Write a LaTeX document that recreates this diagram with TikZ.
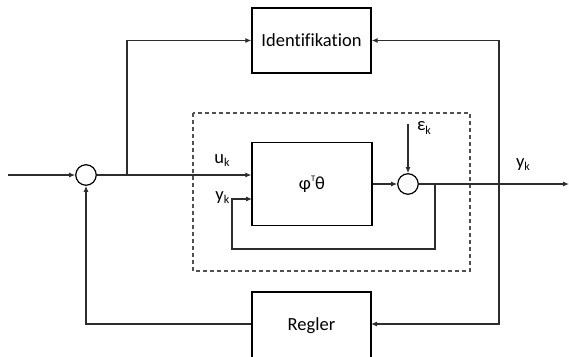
\documentclass[tikz,border=0pt]{standalone}
\usepackage{fontspec}
\setmainfont{Carlito}[Ligatures=NoCommon]
\usetikzlibrary{arrows.meta}
\definecolor{lncol}{RGB}{45,45,45}
\definecolor{dashcol}{RGB}{80,80,80}
\newcommand{\sbk}{\raisebox{-0.35ex}{\fontsize{12}{13}\selectfont k}}
\begin{document}
\begin{tikzpicture}[x=1pt,y=-1pt,
  font=\fontsize{18.5}{21}\selectfont,
  blk/.style={draw=black,line width=1.3pt,rectangle,inner sep=0pt},
  sumnode/.style={draw=black,line width=1.2pt,circle,minimum size=20.5pt,inner sep=0pt},
  conn/.style={draw=lncol,line width=1.1pt},
  arr/.style={conn,-{Latex[length=6pt,width=5pt]}},
  lbl/.style={inner sep=0pt}]
\useasboundingbox (0,0) rectangle (569,356);
% dashed frame
\draw[draw=dashcol,line width=1.1pt,dash pattern=on 4pt off 3pt] (193,113) rectangle (470,271);
% blocks
\node[blk,minimum width=119pt,minimum height=65pt] (ident) at (311.5,40.5) {Identifikation};
\node[blk,minimum width=120pt,minimum height=83pt] (plant) at (312,184) {φ\raisebox{0.9ex}{\fontsize{8.5}{9}\selectfont T}θ};
\node[blk,minimum width=119pt,minimum height=67pt] (regler) at (311.5,325.5) {Regler};
\node[sumnode] (s1) at (86,175) {};
\node[sumnode] (s2) at (408,184) {};
% coordinates
\coordinate (in) at (8,175);
\coordinate (br) at (127,175);
\coordinate (out) at (569,184);
\coordinate (fb) at (435,184);
\coordinate (fb2) at (232,249);
\coordinate (yin) at (252,199);
\coordinate (eps) at (408,124);
\coordinate (rb) at (499,184);
\coordinate (rg) at (371,324);
% connectors
\draw[arr] (in) -- (s1.west);
\draw[arr] (s1.east) -- (s1.east -| plant.west);
\draw[arr] (br) |- (ident.west);
\draw[arr] (plant.east) -- (s2.west);
\draw[arr] (eps) -- (s2.north);
\draw[arr] (s2.east) -- (out);
\draw[arr] (fb) |- (fb2) |- (yin);
\draw[arr] (rb) |- (ident.east);
\draw[arr] (rb) |- (rg);
\draw[arr] (regler.west |- rg) -| (s1.south);
% labels
\node[lbl] (lu) at (222,161) {u\sbk};
\node[lbl,anchor=east] (ly1) at (229.5,198) {y\sbk};
\node[lbl] (le) at (424,128) {ε\sbk};
\node[lbl] (ly2) at (523,165) {y\sbk};
\end{tikzpicture}
\end{document}
